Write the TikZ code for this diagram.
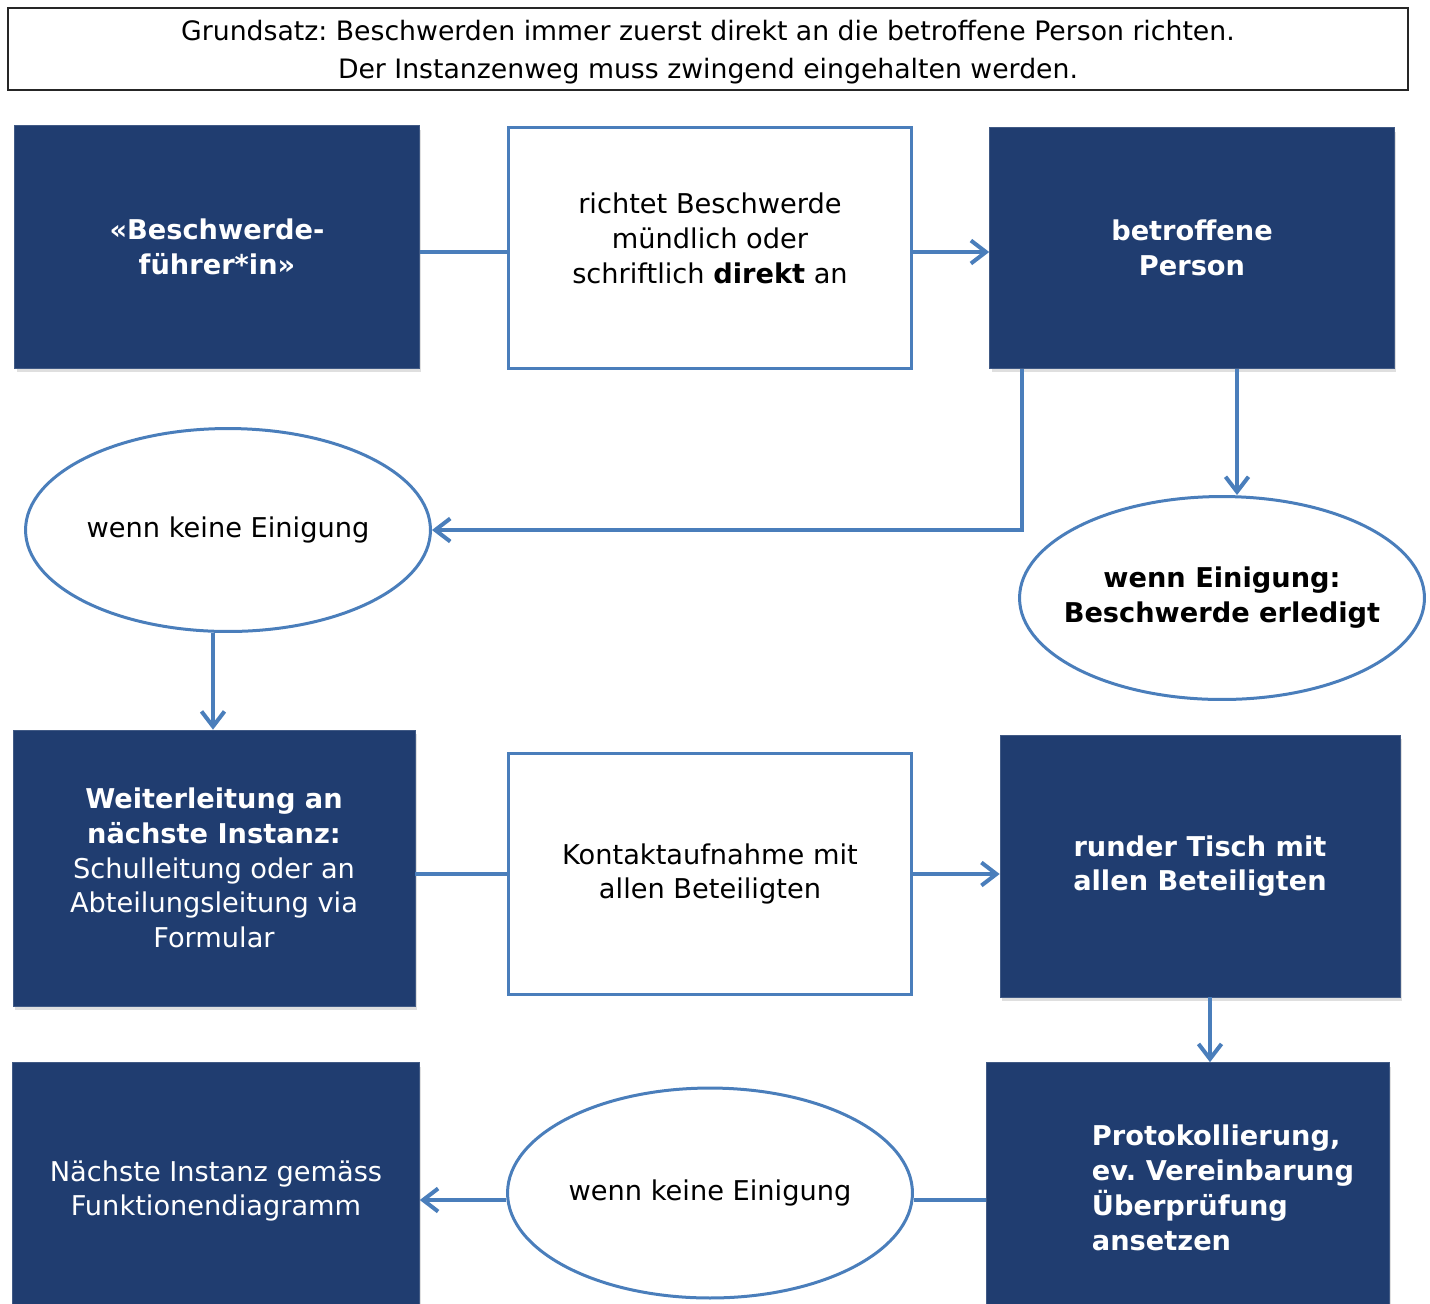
\documentclass[tikz,border=0pt]{standalone}
\usepackage{fontspec}
\setmainfont{DejaVu Sans}
\frenchspacing
\usetikzlibrary{arrows.meta,shapes.geometric,shadows}
\definecolor{navy}{RGB}{32,61,112}
\definecolor{linie}{RGB}{74,126,187}
\tikzset{
	dunkel/.style={draw=navy!85, fill=navy, text=white, minimum width=8.1cm, align=center,
		font=\fontsize{15.5}{19.8}\selectfont,
		drop shadow={shadow xshift=0.4mm, shadow yshift=-0.8mm, opacity=0.25}},
	hell/.style={draw=linie, line width=0.6mm, fill=white, minimum width=8.05cm, minimum height=4.83cm,
		align=center, font=\fontsize{15.5}{19.8}\selectfont},
	oval/.style={ellipse, draw=linie, line width=0.6mm, fill=white, minimum width=8.1cm, minimum height=4.06cm,
		inner sep=0pt, font=\fontsize{15.5}{19.8}\selectfont},
	pfeil/.style={draw=linie, line width=0.8mm, -{Straight Barb[length=3mm,width=4.6mm]}},
	strich/.style={draw=linie, line width=0.8mm},
}

\begin{document}
\begin{tikzpicture}[x=0.02cm, y=-0.02cm]
	%%%%% START %%%%%
	\useasboundingbox (0, 0) rectangle (1430, 1303);
	\clip (0, 0) rectangle (1430, 1303);
	
	\node[draw=black!85, line width=0.4mm, minimum width=28cm, minimum height=1.64cm, align=center,
		text depth=0pt, font=\fontsize{15.2}{21.5}\selectfont] (grund) at (708, 49)
		{Grundsatz: Beschwerden immer zuerst direkt an die betroffene Person richten.\\
		 Der Instanzenweg muss zwingend eingehalten werden.};
	
	% erste Reihe
	\node[dunkel, minimum height=4.86cm] (fuehrer) at (217, 247) {\textbf{«Beschwerde-}\\\textbf{führer*in»}};
	\node[hell, text depth=0.4cm] (richtet) at (710, 248) {richtet Beschwerde\\mündlich oder\\schriftlich \textbf{direkt} an};
	\node[dunkel, minimum height=4.82cm] (person) at (1192, 248) {\textbf{betroffene}\\\textbf{Person}};
	
	\coordinate (reihe1) at (0, 252);
	\draw[strich] (fuehrer.east |- reihe1) -- (richtet.west |- reihe1);
	\draw[pfeil] (richtet.east |- reihe1) -- (person.west |- reihe1);
	
	\node[oval] (keine) at (228, 530) {wenn keine Einigung};
	\node[oval] (einigung) at (1222, 598)
		{\makebox[4cm]{\begin{tabular}{@{}c@{}}\textbf{wenn Einigung:}\\\textbf{Beschwerde erledigt}\end{tabular}}};
	
	\coordinate (linksab) at (1022, 0);
	\coordinate (rechtsab) at (1237, 0);
	\draw[pfeil] (person.south -| linksab) |- (keine.east);
	\draw[pfeil] (person.south -| rechtsab) -- (einigung.north -| rechtsab);
	
	% zweite Reihe
	\node[dunkel, minimum width=8.04cm, minimum height=5.52cm] (weiter) at (214, 868)
		{\textbf{Weiterleitung an}\\\textbf{nächste Instanz:}\\Schulleitung oder an\\Abteilungsleitung via\\Formular};
	\node[hell] (kontakt) at (710, 874) {Kontaktaufnahme mit\\allen Beteiligten};
	\node[dunkel, minimum width=8cm, minimum height=5.24cm] (tisch) at (1200, 866)
		{\textbf{runder Tisch mit}\\\textbf{allen Beteiligten}};
	
	\coordinate (mitteab) at (213, 0);
	\draw[pfeil] (keine.south -| mitteab) -- (weiter.north -| mitteab);
	\draw[strich] (weiter.east |- kontakt) -- (kontakt.west);
	\draw[pfeil] (kontakt.east) -- (tisch.west |- kontakt);
	
	% dritte Reihe
	\node[dunkel, minimum width=8.06cm, minimum height=5.14cm] (proto) at (1188, 1191)
		{\hspace*{1.4cm}\begin{tabular}{@{}l@{}}\textbf{Protokollierung,}\\\textbf{ev. Vereinbarung}\\
		 \textbf{Überprüfung}\\\textbf{ansetzen}\end{tabular}};
	\node[oval, minimum height=4.2cm] (nochmal) at (710, 1193) {wenn keine Einigung};
	\node[dunkel, minimum width=8.14cm, minimum height=5.14cm] (instanz) at (216, 1191)
		{Nächste Instanz gemäss\\Funktionendiagramm};
	
	\coordinate (tischab) at (1210, 0);
	\coordinate (reihe3) at (0, 1200);
	\draw[pfeil] (tisch.south -| tischab) -- (proto.north -| tischab);
	\draw[strich] (proto.west |- reihe3) -- (nochmal.east |- reihe3);
	\draw[pfeil] (nochmal.west |- reihe3) -- (instanz.east |- reihe3);
	
	%%%%% END %%%%%
\end{tikzpicture}
\end{document}
